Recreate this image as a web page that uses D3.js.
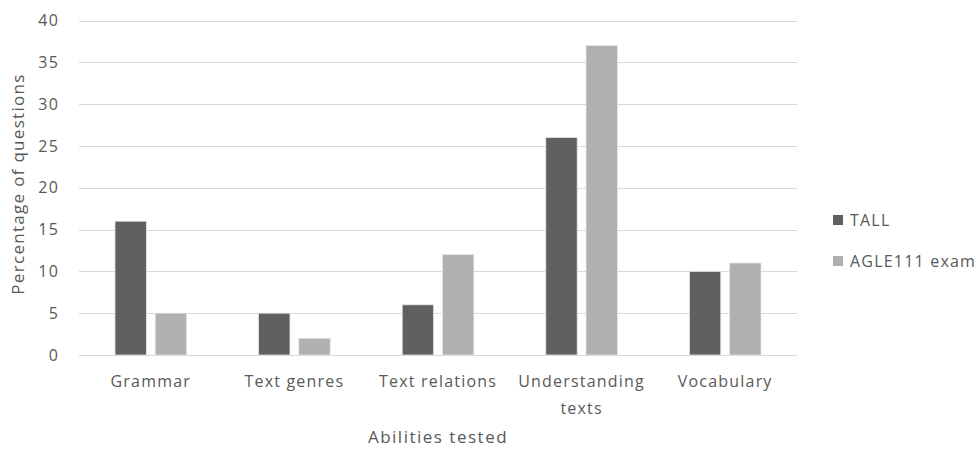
<!DOCTYPE html>
<html>
<head>
<meta charset="utf-8">
<script src="https://cdn.jsdelivr.net/npm/d3@7"></script>
<style>
  body { margin: 0; background: #fff; }
  text { font-family: "Open Sans", sans-serif; fill: #595959; }
</style>
</head>
<body>
<div id="chart"></div>
<script>
// chart data
var categories = ['Grammar', 'Text genres', 'Text relations', 'Understanding texts', 'Vocabulary'];
var seriesNames = ['TALL', 'AGLE111 exam'];
var tallValues = [16, 5, 6, 26, 10];
var agleValues = [5, 2, 12, 37, 11];
var yTicks = [0, 5, 10, 15, 20, 25, 30, 35, 40];
var colors = ['#606060', '#b0b0b0'];

var width = 980, height = 450;
var margin = { top: 20.5, right: 183, bottom: 95, left: 79 };

var svg = d3.select('#chart').append('svg')
  .attr('width', width)
  .attr('height', height);

var x0 = d3.scaleBand()
  .domain(categories)
  .range([margin.left, width - margin.right])
  .paddingInner(0)
  .paddingOuter(0);

var x1 = d3.scaleBand()
  .domain(seriesNames)
  .range([36, x0.bandwidth() - 36])
  .paddingInner(0.22);

var y = d3.scaleLinear()
  .domain([0, 40])
  .range([height - margin.bottom, margin.top]);

// gridlines
svg.append('g').selectAll('line')
  .data(yTicks)
  .enter().append('line')
  .attr('x1', margin.left)
  .attr('x2', width - margin.right)
  .attr('y1', d => Math.round(y(d)) + 0.5)
  .attr('y2', d => Math.round(y(d)) + 0.5)
  .style('stroke', '#d9d9d9')
  .style('stroke-width', 1);

// y labels
svg.append('g').selectAll('text')
  .data(yTicks)
  .enter().append('text')
  .attr('x', margin.left - 20)
  .attr('y', d => y(d))
  .attr('dy', '0.35em')
  .attr('text-anchor', 'end')
  .style('font-size', '16px')
  .style('letter-spacing', '1.2px')
  .text(d => d);

var rows = categories.map((c, i) => ({ cat: c, vals: [tallValues[i], agleValues[i]] }));

var groups = svg.append('g').selectAll('g')
  .data(rows)
  .enter().append('g')
  .attr('transform', d => 'translate(' + x0(d.cat) + ',0)');

groups.selectAll('rect')
  .data(d => d.vals.map((v, j) => ({ name: seriesNames[j], value: v, j: j })))
  .enter().append('rect')
  .attr('x', d => x1(d.name))
  .attr('width', x1.bandwidth())
  .attr('y', d => y(d.value))
  .attr('height', d => y(0) - y(d.value))
  .style('fill', d => colors[d.j])
  .style('stroke', '#e4e4e4')
  .style('stroke-width', 0.8);

// category labels (wrapped)
var catLines = {
  'Understanding texts': ['Understanding', 'texts']
};
svg.append('g').selectAll('text')
  .data(categories)
  .enter().append('text')
  .attr('x', d => x0(d) + x0.bandwidth() / 2)
  .attr('y', y(0) + 32)
  .attr('text-anchor', 'middle')
  .style('font-size', '16px')
  .style('letter-spacing', '1.2px')
  .each(function(d) {
    var lines = catLines[d] || [d];
    var t = d3.select(this);
    lines.forEach((l, i) => {
      t.append('tspan')
        .attr('x', x0(d) + x0.bandwidth() / 2)
        .attr('dy', i === 0 ? 0 : 27)
        .text(l);
    });
  });

// axis titles
svg.append('text')
  .attr('x', (margin.left + width - margin.right) / 2)
  .attr('y', 443)
  .attr('text-anchor', 'middle')
  .style('font-size', '17px')
  .style('letter-spacing', '1.5px')
  .text('Abilities tested');

svg.append('text')
  .attr('transform', 'translate(24,184) rotate(-90)')
  .attr('text-anchor', 'middle')
  .style('font-size', '17px')
  .style('letter-spacing', '1.3px')
  .text('Percentage of questions');

// legend
var legend = svg.append('g').selectAll('g')
  .data(seriesNames)
  .enter().append('g')
  .attr('transform', (d, i) => 'translate(833,' + (220 + i * 41) + ')');

legend.append('rect')
  .attr('x', 0)
  .attr('y', -5)
  .attr('width', 10)
  .attr('height', 10)
  .style('fill', (d, i) => colors[i]);

legend.append('text')
  .attr('x', 17)
  .attr('y', 0)
  .attr('dy', '0.35em')
  .style('font-size', '16px')
  .style('letter-spacing', '1.2px')
  .text(d => d);
</script>
</body>
</html>
